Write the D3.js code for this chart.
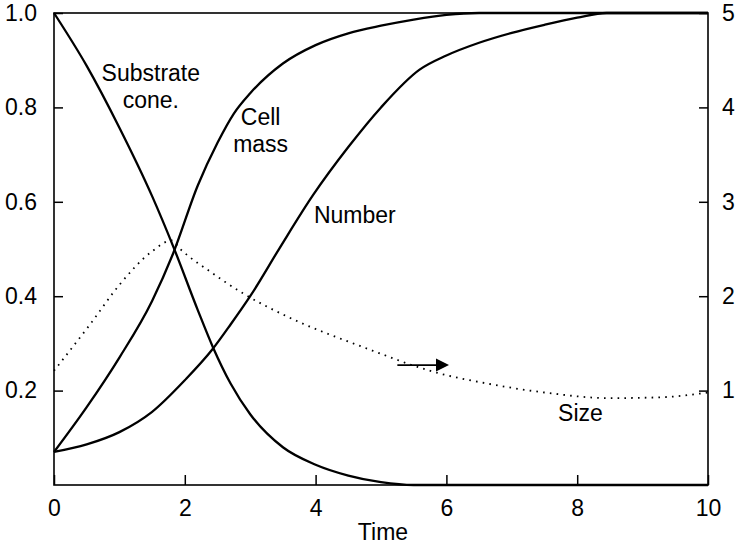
<!DOCTYPE html>
<html>
<head>
<meta charset="utf-8">
<script src="https://cdn.jsdelivr.net/npm/d3@7"></script>
<style>
  html, body { margin: 0; padding: 0; background: #fff; }
  svg { display: block; }
  text { font-family: "Liberation Sans", Arial, Helvetica, sans-serif; fill: #000; }
</style>
</head>
<body>
<svg id="chart" width="741" height="544"></svg>
<script>
// Batch culture: substrate, cell mass, cell number (left axis, 0-1) and mean cell size (right axis, 0-5)
const substrateTime = [0, 0.5, 1.0, 1.5, 1.83, 2.2, 2.43, 2.7, 3.0, 3.5, 4.0, 4.5, 5.0, 5.5, 10];
const substrateConc = [1.0, 0.888, 0.757, 0.612, 0.503, 0.37, 0.292, 0.215, 0.15, 0.08, 0.043, 0.02, 0.006, 0, 0];

const cellMassTime = [0, 0.5, 1.0, 1.5, 1.82, 2.2, 2.5, 2.75, 3.0, 3.5, 4.0, 4.5, 5.0, 5.5, 6.0, 6.5, 10];
const cellMassValue = [0.07, 0.165, 0.27, 0.39, 0.49, 0.635, 0.725, 0.787, 0.83, 0.893, 0.932, 0.957, 0.973, 0.986, 0.996, 1, 1];

const numberTime = [0, 0.5, 1.0, 1.5, 2.0, 2.42, 2.7, 3.0, 3.45, 3.96, 4.5, 5.0, 5.59, 6.0, 6.5, 7.0, 7.5, 8.0, 8.45, 10];
const numberValue = [0.07, 0.086, 0.112, 0.155, 0.222, 0.287, 0.34, 0.4, 0.502, 0.614, 0.716, 0.8, 0.88, 0.91, 0.937, 0.958, 0.975, 0.99, 1, 1];

const sizeTime = [0, 0.55, 1.0, 1.49, 1.8, 1.93, 2.41, 2.89, 3.58, 4.73, 5.85, 6.66, 7.5, 8.5, 9.3, 10];
const sizeValue = [1.21, 1.7, 2.12, 2.47, 2.59, 2.5, 2.25, 2.03, 1.78, 1.46, 1.19, 1.07, 0.98, 0.92, 0.93, 0.98];

const timeTicks = [0, 2, 4, 6, 8, 10];
const leftTicks = [0.2, 0.4, 0.6, 0.8, 1.0];
const rightTicks = [1, 2, 3, 4, 5];

const svg = d3.select("#chart");
const plot = { left: 54, right: 708, top: 13, bottom: 485 };
const fontSize = 23;

const x = d3.scaleLinear().domain([0, 10]).range([plot.left, plot.right]);
const yLeft = d3.scaleLinear().domain([0, 1]).range([plot.bottom, plot.top]);
const yRight = d3.scaleLinear().domain([0, 5]).range([plot.bottom, plot.top]);

// Axes: ticks point into the plot area
const gx = svg.append("g")
  .attr("transform", `translate(0,${plot.bottom})`)
  .call(d3.axisBottom(x).tickValues(timeTicks).tickFormat(d3.format("d"))
    .tickSizeInner(-10).tickSizeOuter(0).tickPadding(15));

const gl = svg.append("g")
  .attr("transform", `translate(${plot.left},0)`)
  .call(d3.axisLeft(yLeft).tickValues(leftTicks).tickFormat(d3.format(".1f"))
    .tickSizeInner(-9).tickSizeOuter(0).tickPadding(17));

const gr = svg.append("g")
  .attr("transform", `translate(${plot.right},0)`)
  .call(d3.axisRight(yRight).tickValues(rightTicks).tickFormat(d3.format("d"))
    .tickSizeInner(-9).tickSizeOuter(0).tickPadding(14));

[gx, gl, gr].forEach(g => {
  g.select(".domain").remove();
  g.selectAll(".tick line").attr("stroke", "#000").attr("stroke-width", 1.5);
  g.selectAll(".tick text")
    .attr("font-size", fontSize)
    .attr("font-family", '"Liberation Sans", Arial, sans-serif')
    .attr("fill", "#000");
});

// Frame around the plot
svg.append("rect")
  .attr("x", plot.left).attr("y", plot.top)
  .attr("width", plot.right - plot.left).attr("height", plot.bottom - plot.top)
  .attr("fill", "none").attr("stroke", "#000").attr("stroke-width", 1.6);

// Curves
const pairs = (ts, vs) => ts.map((t, i) => [t, vs[i]]);
const lineLeft = d3.line().x(d => x(d[0])).y(d => yLeft(d[1])).curve(d3.curveMonotoneX);
const lineRight = d3.line().x(d => x(d[0])).y(d => yRight(d[1])).curve(d3.curveMonotoneX);

const solid = [
  pairs(substrateTime, substrateConc),
  pairs(cellMassTime, cellMassValue),
  pairs(numberTime, numberValue)
];
svg.append("g").selectAll("path").data(solid).join("path")
  .attr("d", lineLeft)
  .attr("fill", "none").attr("stroke", "#000").attr("stroke-width", 2.3)
  .attr("stroke-linejoin", "round");

svg.append("path")
  .datum(pairs(sizeTime, sizeValue))
  .attr("d", lineRight)
  .attr("fill", "none").attr("stroke", "#000").attr("stroke-width", 1.8)
  .attr("stroke-dasharray", "1.6,5.2");

// Arrow pointing to the right-hand axis for the size curve
const arrowY = yRight(1.27);
const arrowX0 = x(5.25), arrowX1 = x(6.04);
svg.append("line")
  .attr("x1", arrowX0).attr("x2", arrowX1 - 10)
  .attr("y1", arrowY).attr("y2", arrowY)
  .attr("stroke", "#000").attr("stroke-width", 1.8);
svg.append("path")
  .attr("d", `M${arrowX1},${arrowY} L${arrowX1 - 13},${arrowY - 6.5} L${arrowX1 - 13},${arrowY + 6.5} Z`)
  .attr("fill", "#000");

// Curve labels
const labels = [
  { lines: ["Substrate", "cone."], t: 1.48, v: 0.855, gap: 27 },
  { lines: ["Cell", "mass"], t: 3.16, v: 0.762, gap: 27 },
  { lines: ["Number"], t: 4.6, v: 0.555, gap: 0 },
  { lines: ["Size"], t: 8.05, v: 0.135, gap: 0 }
];
labels.forEach(l => {
  const text = svg.append("text")
    .attr("x", x(l.t)).attr("y", yLeft(l.v))
    .attr("text-anchor", "middle")
    .attr("font-size", fontSize);
  l.lines.forEach((s, i) => {
    text.append("tspan").attr("x", x(l.t)).attr("dy", i === 0 ? 0 : l.gap).text(s);
  });
});

// Axis title
svg.append("text")
  .attr("x", (plot.left + plot.right) / 2 + 2).attr("y", 540)
  .attr("text-anchor", "middle")
  .attr("font-size", fontSize)
  .text("Time");
</script>
</body>
</html>
